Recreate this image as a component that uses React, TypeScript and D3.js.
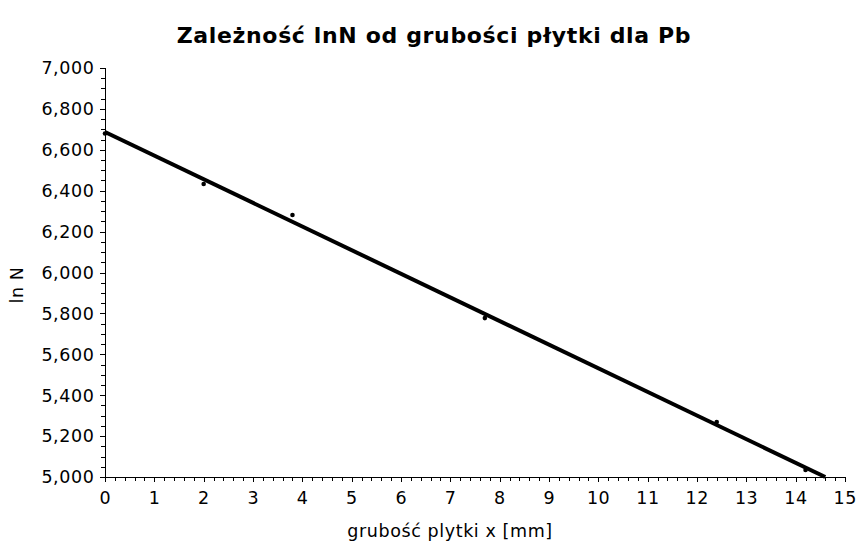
import React from "react";
import * as d3 from "d3";

const pointsX = [0, 2, 3.8, 7.7, 12.4, 14.2];
const pointsY = [6.68, 6.433, 6.281, 5.777, 5.269, 5.034];
const fitX = [0, 14.6];
const fitY = [6.687, 5.0];
const xTicks = [0, 1, 2, 3, 4, 5, 6, 7, 8, 9, 10, 11, 12, 13, 14, 15];
const yTicks = [5.0, 5.2, 5.4, 5.6, 5.8, 6.0, 6.2, 6.4, 6.6, 6.8, 7.0];
const title = "Zależność lnN od grubości płytki dla Pb";
const xLabel = "grubość plytki x [mm]";
const yLabel = "ln N";

export default function App() {
  const W = 866, H = 548;
  const x = d3.scaleLinear().domain([0, 15]).range([105, 845]);
  const y = d3.scaleLinear().domain([5, 7]).range([477, 68]);
  const xMinor = d3.range(0, 15.0001, 0.2);
  const yMinor = d3.range(5, 7.0001, 0.05);
  const fmt = (v: number) => v.toFixed(3).replace(".", ",");
  const line = d3.line<number>().x((_, i) => x(fitX[i])).y((d) => y(d));
  const font = "DejaVu Sans, sans-serif";
  const ls = 0.6;
  return (
    <svg width={W} height={H} style={{ position: "absolute", left: 0, top: 0 }} fontFamily={font}>
      <rect width={W} height={H} fill="#fff" />
      <text x={434} y={43} textAnchor="middle" fontSize={22} fontWeight="bold" letterSpacing={0.65}>{title}</text>
      {/* y axis */}
      <line x1={105.5} x2={105.5} y1={y(7)} y2={y(5)} stroke="#000" strokeWidth={1} />
      {yMinor.map((v, i) => (
        <line key={"ym" + i} x1={101} x2={105} y1={Math.round(y(v)) + 0.5} y2={Math.round(y(v)) + 0.5} stroke="#000" />
      ))}
      {yTicks.map((v, i) => (
        <g key={"y" + i}>
          <line x1={100} x2={105} y1={Math.round(y(v)) + 0.5} y2={Math.round(y(v)) + 0.5} stroke="#000" />
          <text x={94.5} y={y(v)} dy="0.36em" textAnchor="end" fontSize={17.5} letterSpacing={ls}>{fmt(v)}</text>
        </g>
      ))}
      {/* x axis */}
      <line x1={x(0)} x2={x(15)} y1={477.5} y2={477.5} stroke="#000" />
      {xMinor.map((v, i) => (
        <line key={"xm" + i} x1={Math.round(x(v)) + 0.5} x2={Math.round(x(v)) + 0.5} y1={477} y2={481} stroke="#000" />
      ))}
      {xTicks.map((v, i) => (
        <g key={"x" + i}>
          <line x1={Math.round(x(v)) + 0.5} x2={Math.round(x(v)) + 0.5} y1={477} y2={482} stroke="#000" />
          <text x={x(v) + ls / 2} y={504} textAnchor="middle" fontSize={17.5} letterSpacing={ls}>{v}</text>
        </g>
      ))}
      <text x={450} y={537} textAnchor="middle" fontSize={17.5} letterSpacing={ls}>{xLabel}</text>
      <text transform={`translate(23,${285}) rotate(-90)`} textAnchor="middle" fontSize={17.5} letterSpacing={ls}>{yLabel}</text>
      <path d={line(fitY) || ""} stroke="#000" strokeWidth={4} fill="none" />
      {pointsX.map((v, i) => (
        <circle key={"p" + i} cx={x(v)} cy={y(pointsY[i])} r={2.3} fill="#000" />
      ))}
    </svg>
  );
}
